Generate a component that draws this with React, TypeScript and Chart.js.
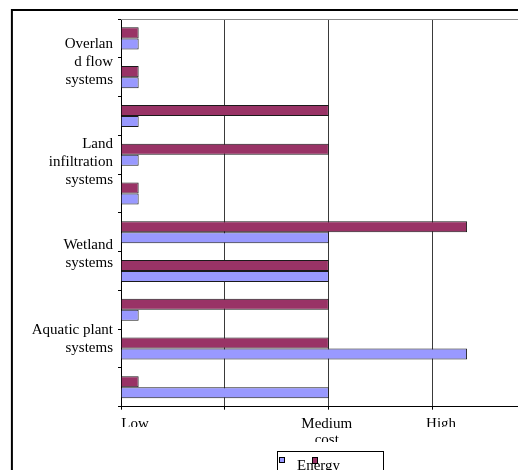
import { useEffect, useRef } from "react";
import { Chart, registerables } from "chart.js";

Chart.register(...registerables);

// Ten unnamed rows; the system names span groups of rows on the left.
const rows = ["", "", "", "", "", "", "", "", "", ""];

// Cost level per row (0 = Low, 2 = Medium, 3 = High)
const energyCost = [0.17, 0.17, 0.17, 0.17, 0.17, 2, 2, 0.17, 3.33, 2];
const landCost = [0.17, 0.17, 2, 2, 0.17, 3.33, 2, 2, 2, 0.17];

// System group names and the row position (in row units from the top) they sit at
const systemNames = [
  ["Overlan", "d flow", "systems"],
  ["Land", "infiltration", "systems"],
  ["Wetland", "systems"],
  ["Aquatic plant", "systems"],
];
const systemRowPos = [1.1, 3.69, 6.06, 8.25];

// Cost axis: gridline levels and labels
const costGrid = [0, 1, 2, 3];
const costAxisMax = 3.82;
const costLabels = ["Low", ["Medium", "cost"], "High"];
const costLabelPos = [0.135, 1.98, 3.08];

const ENERGY_COLOR = "#9999FF";
const LAND_COLOR = "#993366";
const SERIF = '"Liberation Serif", "Times New Roman", serif';

const framePlugin = {
  id: "frame",
  beforeDatasetsDraw(chart: any) {
    const { ctx, chartArea } = chart;
    ctx.save();
    ctx.strokeStyle = "#8c8c8c";
    ctx.lineWidth = 1;
    ctx.beginPath();
    ctx.moveTo(chartArea.left, chartArea.top + 0.5);
    ctx.lineTo(chartArea.right, chartArea.top + 0.5);
    ctx.stroke();
    ctx.restore();
  },
  afterDatasetsDraw(chart: any) {
    // system names, centred on their row position, one line per entry
    const { ctx, chartArea } = chart;
    const yScale = chart.scales.y;
    const lineHeight = 18;
    ctx.save();
    ctx.font = `15px ${SERIF}`;
    ctx.fillStyle = "#000";
    ctx.textAlign = "right";
    ctx.textBaseline = "middle";
    systemNames.forEach((lines, i) => {
      const center = yScale.getPixelForValue(systemRowPos[i] - 0.5);
      lines.forEach((text, j) => {
        ctx.fillText(text, chartArea.left - 8, center + (j - (lines.length - 1) / 2) * lineHeight);
      });
    });
    ctx.restore();
  },
  afterDraw(chart: any) {
    const { ctx, width, height } = chart;
    ctx.save();
    // label boxes cut the lower part of the cost labels
    ctx.fillStyle = "#ffffff";
    ctx.fillRect(102, 419, 60, 24);
    ctx.fillRect(407, 419, 60, 24);
    ctx.fillRect(287, 434, 70, 9);

    // outer frame
    ctx.strokeStyle = "#000";
    ctx.lineWidth = 2;
    ctx.beginPath();
    ctx.moveTo(3.9, height);
    ctx.lineTo(3.9, 2);
    ctx.lineTo(width, 2);
    ctx.stroke();

    // legend box
    ctx.lineWidth = 1;
    ctx.strokeStyle = "#000";
    ctx.strokeRect(269.5, 443.5, 106, 30);
    ctx.fillStyle = ENERGY_COLOR;
    ctx.fillRect(271.5, 449.5, 5, 5);
    ctx.strokeRect(271.5, 449.5, 5, 5);
    ctx.fillStyle = "#000";
    ctx.font = `15px ${SERIF}`;
    ctx.textBaseline = "alphabetic";
    ctx.textAlign = "left";
    ctx.fillText("Energy", 289, 461.5);
    ctx.fillStyle = LAND_COLOR;
    ctx.fillRect(304.5, 449.5, 5, 6);
    ctx.strokeRect(304.5, 449.5, 5, 6);
    ctx.restore();
  },
};

export default function App() {
  const canvasRef = useRef<HTMLCanvasElement | null>(null);

  useEffect(() => {
    const canvas = canvasRef.current;
    if (!canvas) return;
    const chart = new Chart(canvas, {
      type: "bar",
      data: {
        labels: rows,
        datasets: [
          {
            label: "Land",
            data: landCost,
            backgroundColor: LAND_COLOR,
            borderColor: "#1a1a1a",
            borderWidth: 1,
            categoryPercentage: 0.57,
            barPercentage: 1,
          },
          {
            label: "Energy",
            data: energyCost,
            backgroundColor: ENERGY_COLOR,
            borderColor: "#1a1a1a",
            borderWidth: 1,
            categoryPercentage: 0.57,
            barPercentage: 1,
          },
        ],
      },
      options: {
        indexAxis: "y",
        animation: false,
        responsive: false,
        maintainAspectRatio: false,
        layout: { padding: { left: 110, top: 11, right: 0, bottom: 0 } },
        plugins: { legend: { display: false }, tooltip: { enabled: false } },
        scales: {
          x: {
            type: "linear",
            position: "bottom",
            weight: 1,
            min: 0,
            max: costAxisMax,
            bounds: "data",
            afterBuildTicks: (s: any) => {
              s.ticks = costGrid.map((v) => ({ value: v }));
            },
            grid: { color: "#3a3a3a", lineWidth: 1, drawTicks: true, tickLength: 3, tickColor: "#000" },
            border: { display: true, color: "#000", width: 1 },
            ticks: { display: false },
            afterFit: (s: any) => {
              s.height = 3;
            },
          },
          xl: {
            type: "linear",
            position: "bottom",
            weight: 2,
            min: 0,
            max: costAxisMax,
            bounds: "data",
            afterBuildTicks: (s: any) => {
              s.ticks = costLabelPos.map((v) => ({ value: v }));
            },
            grid: { display: false, drawTicks: false },
            border: { display: false },
            ticks: {
              autoSkip: false,
              maxRotation: 0,
              padding: 6,
              color: "#000",
              font: { family: SERIF, size: 15, lineHeight: 1.1 },
              callback: (_v: any, i: number) => costLabels[i] as any,
            },
            afterFit: (s: any) => {
              s.height = 60.3;
              s.paddingLeft = 0;
              s.paddingRight = 0;
            },
          },
          y: {
            type: "category",
            position: "left",
            offset: true,
            grid: {
              display: true,
              drawOnChartArea: false,
              drawTicks: true,
              tickLength: 3,
              offset: true,
              color: "#000",
              tickColor: "#000",
            },
            border: { display: true, color: "#000", width: 1 },
            ticks: { display: false },
            afterFit: (s: any) => {
              s.width = 3;
              s.paddingTop = 0;
              s.paddingBottom = 0;
            },
          },
        },
      } as any,
      plugins: [framePlugin],
    });
    return () => chart.destroy();
  }, []);

  return (
    <div style={{ position: "absolute", left: 8, top: 8, width: 510, height: 462, background: "#fff" }}>
      <canvas ref={canvasRef} width={510} height={462} style={{ display: "block", width: 510, height: 462 }} />
    </div>
  );
}
